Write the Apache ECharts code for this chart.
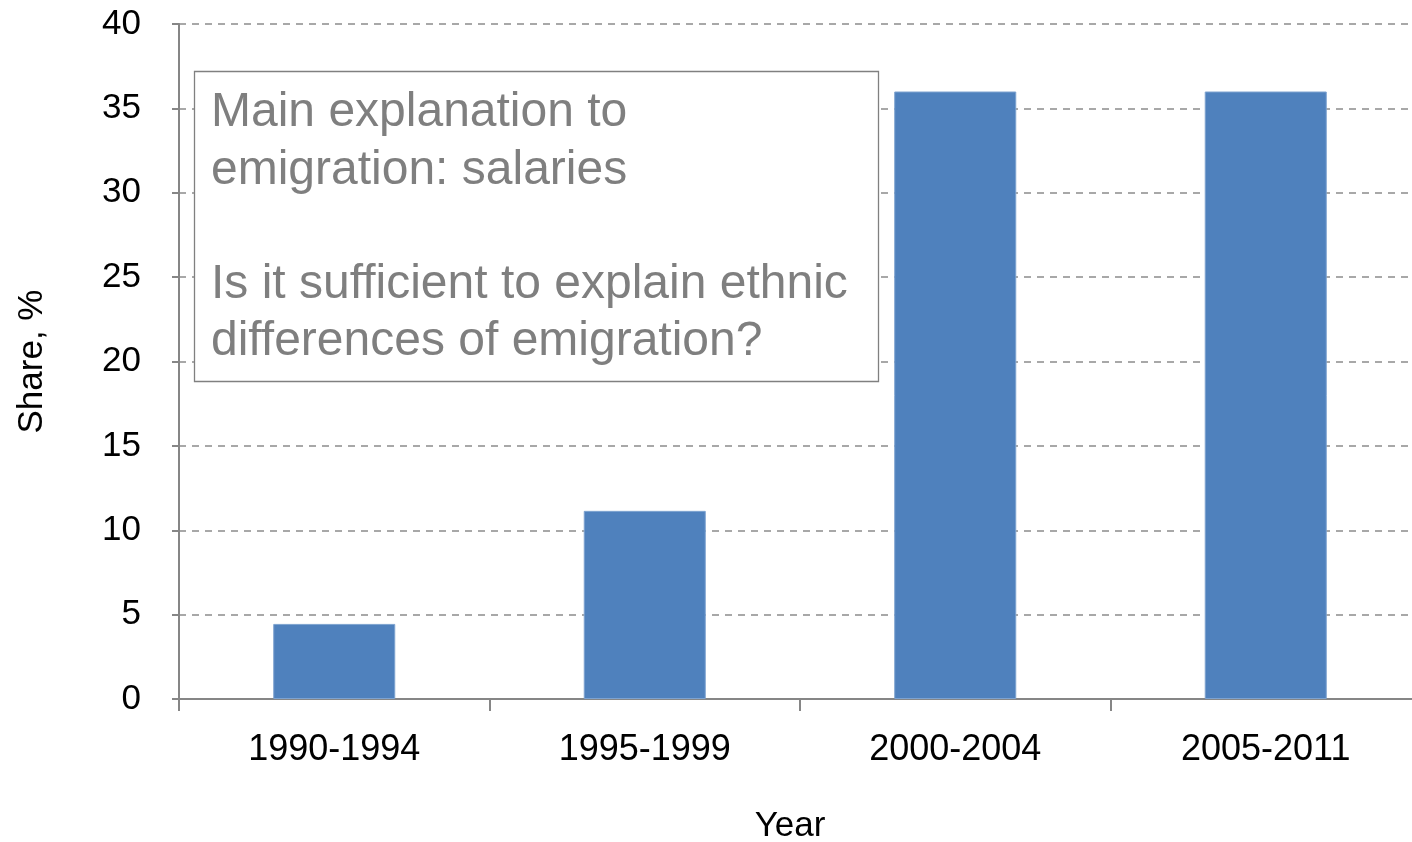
<!DOCTYPE html>
<html>
<head>
<meta charset="utf-8">
<script src="https://cdn.jsdelivr.net/npm/echarts@6/dist/echarts.min.js"></script>
<style>
html,body{margin:0;padding:0;background:#fff;}
#chart{width:1412px;height:842px;}
</style>
</head>
<body>
<div id="chart"></div>
<script>
const categories = ['1990-1994', '1995-1999', '2000-2004', '2005-2011'];
const shareValues = [4.45, 11.15, 36, 36];
const yTicks = { min: 0, max: 40, interval: 5 };
const xTitle = 'Year';
const yTitle = 'Share, %';
const noteLines = ['Main explanation to', 'emigration: salaries', '', 'Is it sufficient to explain ethnic', 'differences of emigration?'];

const chart = echarts.init(document.getElementById('chart'), null, { renderer: 'canvas' });

const noteGraphics = [{
  type: 'rect',
  shape: { x: 194.5, y: 71.5, width: 684, height: 310 },
  style: { fill: '#fff', stroke: '#808080', lineWidth: 1.3 },
  z: 100
}];
noteLines.forEach((line, i) => {
  if (!line) return;
  noteGraphics.push({
    type: 'text',
    x: 211,
    y: 113 + i * 57.3,
    style: {
      text: line,
      fill: '#7f7f7f',
      font: '48px "Liberation Sans", Arial, sans-serif',
      verticalAlign: 'middle',
      align: 'left'
    },
    z: 101
  });
});

chart.setOption({
  animation: false,
  backgroundColor: '#ffffff',
  grid: { left: 179, right: -9, top: 24, bottom: 143, containLabel: false, outerBoundsMode: 'none' },
  xAxis: {
    type: 'category',
    data: categories,
    boundaryGap: true,
    name: xTitle,
    nameLocation: 'middle',
    nameGap: 110,
    nameTextStyle: { fontFamily: '"Liberation Sans", Arial, sans-serif', fontSize: 35, color: '#000', padding: [0, 20, 0, 0] },
    axisLine: { lineStyle: { color: '#868686', width: 2 } },
    axisTick: { show: true, length: 12, lineStyle: { color: '#868686', width: 2 } },
    axisLabel: { fontFamily: '"Liberation Sans", Arial, sans-serif', fontSize: 36, color: '#000', margin: 33 },
    splitLine: { show: false }
  },
  yAxis: {
    type: 'value',
    min: yTicks.min,
    max: yTicks.max,
    interval: yTicks.interval,
    name: yTitle,
    nameLocation: 'middle',
    nameGap: 129,
    nameRotate: 90,
    nameTextStyle: { fontFamily: '"Liberation Sans", Arial, sans-serif', fontSize: 35, color: '#000' },
    axisLine: { show: true, lineStyle: { color: '#868686', width: 2 } },
    axisTick: { show: true, length: 7, lineStyle: { color: '#868686', width: 2 } },
    axisLabel: { fontFamily: '"Liberation Sans", Arial, sans-serif', fontSize: 35, color: '#000', margin: 38 },
    splitLine: { show: true, lineStyle: { color: '#8c8c8c', width: 1.5, type: [7, 6] } }
  },
  series: [{
    type: 'bar',
    data: shareValues,
    barWidth: '39.3%',
    itemStyle: { color: '#4f81bd', borderColor: '#7ea3d0', borderWidth: 1 }
  }],
  graphic: noteGraphics
});
</script>
</body>
</html>
